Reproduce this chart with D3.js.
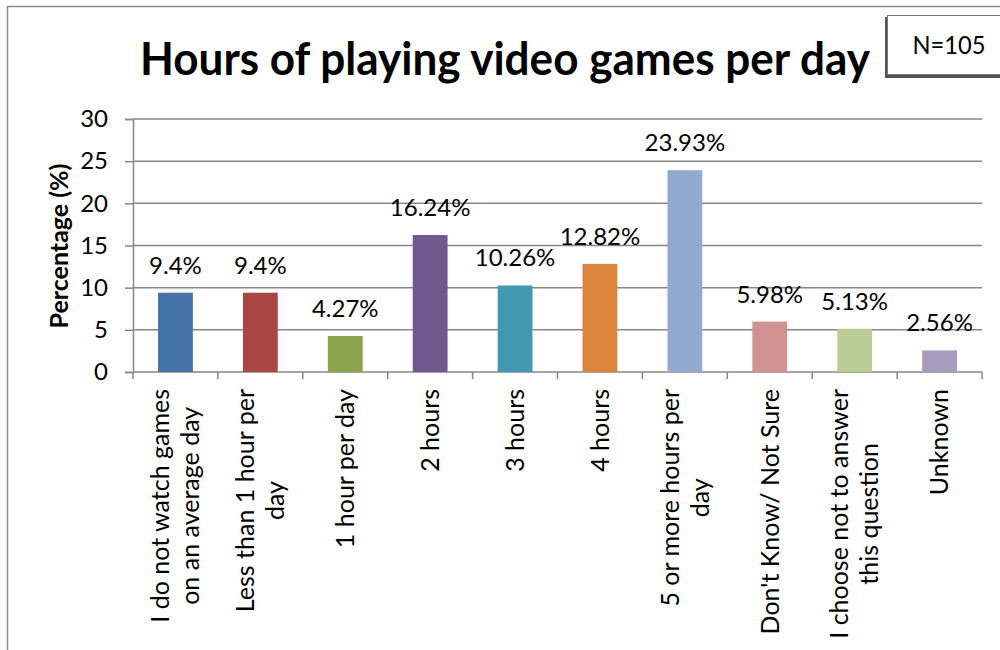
<!DOCTYPE html>
<html>
<head>
<meta charset="utf-8">
<script src="https://cdn.jsdelivr.net/npm/d3@7"></script>
<style>
  html, body { margin: 0; padding: 0; background: #fff; }
  svg { display: block; }
  text { font-family: Lato, "Open Sans", sans-serif; fill: #000; }
</style>
</head>
<body>
<svg id="chart" width="1000" height="650"></svg>
<script>
// Survey answers: hours spent playing video games per day (N=105)
const categories = [
  ["I do not watch games", "on an average day"],
  ["Less than 1 hour per", "day"],
  ["1 hour per day"],
  ["2 hours"],
  ["3 hours"],
  ["4 hours"],
  ["5 or more hours per", "day"],
  ["Don't Know/ Not Sure"],
  ["I choose not to answer", "this question"],
  ["Unknown"]
];
const percentages = [9.4, 9.4, 4.27, 16.24, 10.26, 12.82, 23.93, 5.98, 5.13, 2.56];
const valueLabels = ["9.4%", "9.4%", "4.27%", "16.24%", "10.26%", "12.82%", "23.93%", "5.98%", "5.13%", "2.56%"];
const yTicks = [0, 5, 10, 15, 20, 25, 30];
const barColors = ["#4572A7", "#AA4643", "#89A54E", "#71588F", "#4198AF",
                   "#DB843D", "#93A9CF", "#D19392", "#B9CD96", "#A99BBD"];
const titleText = "Hours of playing video games per day";
const sampleText = "N=105";
const yAxisTitle = "Percentage (%)";

const svg = d3.select("#chart");
const gridColor = "#878787";

// Plot area
const plotLeft = 133, plotRight = 982, plotTop = 119, plotBottom = 372;
const idx = d3.range(categories.length);

const x = d3.scaleBand().domain(idx).range([plotLeft, plotRight]).paddingInner(0.59).paddingOuter(0.295);
const xStep = d3.scaleBand().domain(idx).range([plotLeft, plotRight]);
const y = d3.scaleLinear().domain([0, 30]).range([plotBottom, plotTop]);

// Chart frame (top and left edges)
svg.append("path")
  .attr("d", `M7.5,650 V6.5 H1000`)
  .attr("fill", "none").attr("stroke", "#8c8c8c").attr("stroke-width", 1.5);

// Horizontal gridlines
svg.append("g").selectAll("line").data(yTicks.filter(t => t > 0)).join("line")
  .attr("x1", plotLeft).attr("x2", plotRight)
  .attr("y1", d => y(d)).attr("y2", d => y(d))
  .attr("stroke", gridColor).attr("stroke-width", 1.5);

// Y axis
const yAxis = svg.append("g").attr("transform", `translate(${plotLeft},0)`)
  .call(d3.axisLeft(y).tickValues(yTicks).tickSize(8).tickPadding(17));
yAxis.select(".domain").attr("stroke", gridColor).attr("stroke-width", 1.5);
yAxis.selectAll(".tick line").attr("stroke", gridColor).attr("stroke-width", 1.5);
yAxis.selectAll(".tick text").attr("font-size", 24).attr("font-family", "Lato, sans-serif").attr("fill", "#000");

// X axis line with tick marks at band boundaries
svg.append("line").attr("x1", plotLeft).attr("x2", plotRight).attr("y1", plotBottom).attr("y2", plotBottom)
  .attr("stroke", gridColor).attr("stroke-width", 1.5);
const boundaries = idx.map(i => xStep(i)).concat([plotRight]);
svg.append("g").selectAll("line").data(boundaries).join("line")
  .attr("x1", d => d).attr("x2", d => d)
  .attr("y1", plotBottom).attr("y2", plotBottom + 7)
  .attr("stroke", gridColor).attr("stroke-width", 1.5);

// Bars
svg.append("g").selectAll("rect").data(idx).join("rect")
  .attr("x", i => x(i)).attr("width", x.bandwidth())
  .attr("y", i => y(percentages[i]))
  .attr("height", i => y(0) - y(percentages[i]))
  .attr("fill", i => barColors[i]);

// Value labels above bars
svg.append("g").selectAll("text").data(idx).join("text")
  .attr("x", i => x(i) + x.bandwidth() / 2)
  .attr("y", i => y(percentages[i]) - 19)
  .attr("text-anchor", "middle")
  .attr("font-size", 24)
  .text(i => valueLabels[i]);

// Rotated category labels: block right-aligned to the axis, lines centred within the block
const lineH = 30;
const catG = svg.append("g").selectAll("g").data(idx).join("g")
  .attr("transform", i => `translate(${xStep(i) + xStep.bandwidth() / 2},389) rotate(-90)`);
catG.each(function (i) {
  const g = d3.select(this);
  const lines = categories[i];
  const texts = lines.map((ln, k) => g.append("text")
    .attr("font-size", 25)
    .attr("text-anchor", "middle")
    .attr("y", (k - (lines.length - 1) / 2) * lineH)
    .attr("dy", "0.35em")
    .text(ln));
  const w = d3.max(texts, t => t.node().getComputedTextLength());
  texts.forEach(t => t.attr("x", -w / 2));
});

// Y axis title
svg.append("text")
  .attr("transform", `translate(68,246) rotate(-90)`)
  .attr("text-anchor", "middle")
  .attr("font-size", 25).attr("font-weight", "bold")
  .text(yAxisTitle);

// Chart title
svg.append("text")
  .attr("x", 505).attr("y", 75)
  .attr("text-anchor", "middle")
  .attr("font-size", 45).attr("font-weight", "bold")
  .attr("textLength", 730).attr("lengthAdjust", "spacingAndGlyphs")
  .text(titleText);

// Sample size box with a soft shadow
svg.append("rect").attr("x", 885).attr("y", 17).attr("width", 130).attr("height", 61)
  .attr("fill", "#555");
svg.append("rect").attr("x", 887.5).attr("y", 15.5).attr("width", 130).attr("height", 59)
  .attr("fill", "#fff").attr("stroke", "#777").attr("stroke-width", 1);
svg.append("text")
  .attr("x", 949).attr("y", 54)
  .attr("text-anchor", "middle")
  .attr("font-size", 25)
  .attr("fill", "#1a1a2a")
  .attr("textLength", 73).attr("lengthAdjust", "spacingAndGlyphs")
  .text(sampleText);
</script>
</body>
</html>
